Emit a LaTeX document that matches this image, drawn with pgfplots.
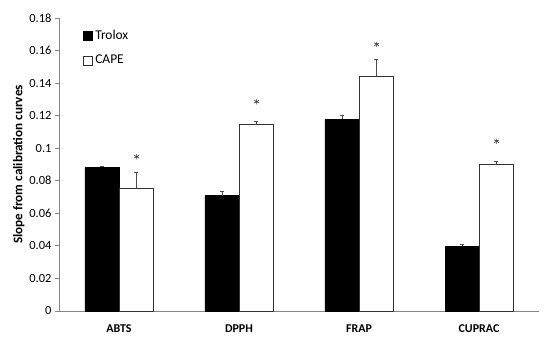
\documentclass[border=0pt]{standalone}
\usepackage{pgfplots}
\pgfplotsset{compat=1.18}
\usepackage{fontspec}
\setmainfont{Carlito}
\definecolor{axgray}{HTML}{868686}
\begin{document}
\begin{tikzpicture}
\useasboundingbox (0,0) rectangle (550bp,338bp);
\begin{axis}[
  at={(59bp,27bp)}, anchor=south west,
  scale only axis, width=480bp, height=293bp,
  xmin=-0.5, xmax=3.5, ymin=0, ymax=0.18,
  axis x line*=bottom, axis y line*=left,
  axis line style={axgray, line width=0.8bp},
  xtick={0,1,2,3}, xticklabels={ABTS,DPPH,FRAP,CUPRAC},
  x tick label style={font=\fontsize{12}{14}\selectfont\bfseries, yshift=-6bp},
  major x tick style={draw=none},
  extra x ticks={-0.5,0.5,1.5,2.5,3.5}, extra x tick labels={},
  extra x tick style={tick style={axgray, line width=0.8bp}, tick align=outside, major tick length=4bp},
  ytick={0,0.02,...,0.18},
  scaled y ticks=false,
  yticklabel style={/pgf/number format/fixed, /pgf/number format/precision=2, font=\fontsize{12.5}{14}\selectfont},
  /pgf/number format/assume math mode=true,
  y tick style={axgray, line width=0.8bp}, tick align=outside, major tick length=4bp,
  ylabel={\bfseries Slope from calibration curves},
  ylabel style={font=\fontsize{13.2}{15}\selectfont, yshift=-2bp},
  legend style={at={(0.05,0.965)}, anchor=north west, draw=none, fill=none,
    font=\fontsize{13.5}{15}\selectfont, row sep=10bp, inner sep=0pt,
    legend cell align=left, nodes={inner xsep=2.5bp}},
  legend image code/.code={\draw[#1, line width=0.6bp] (0bp,-4.5bp) rectangle (9bp,4.5bp);},
  clip=false,
]
\addplot[ybar, bar width=34bp, bar shift=0bp, fill=black, draw=black, line width=0.6bp,
  error bars/.cd, y dir=plus, y explicit,
  error bar style={black!70, line width=0.6bp},
  error mark options={rotate=90, mark size=2bp, black!70}]
  coordinates {(-0.1417,0.0883) +- (0,0.0008) (0.8583,0.0708) +- (0,0.003) (1.8583,0.1179) +- (0,0.0023) (2.8583,0.0399) +- (0,0.0009)};
\addlegendentry{Trolox}
\addplot[ybar, bar width=34bp, bar shift=0bp, fill=white, draw=black!80, line width=0.6bp,
  error bars/.cd, y dir=plus, y explicit,
  error bar style={black!70, line width=0.6bp},
  error mark options={rotate=90, mark size=2bp, black!70}]
  coordinates {(0.1417,0.0754) +- (0,0.0098) (1.1417,0.1147) +- (0,0.002) (2.1417,0.1443) +- (0,0.0103) (3.1417,0.0903) +- (0,0.002)};
\addlegendentry{CAPE}
\addplot[only marks, mark=asterisk, mark size=2.6bp, black!75, mark options={line width=0.7bp}, forget plot]
  coordinates {(0.147,0.0948) (1.147,0.1286) (2.147,0.1638) (3.147,0.1043)};
\end{axis}
\end{tikzpicture}
\end{document}
